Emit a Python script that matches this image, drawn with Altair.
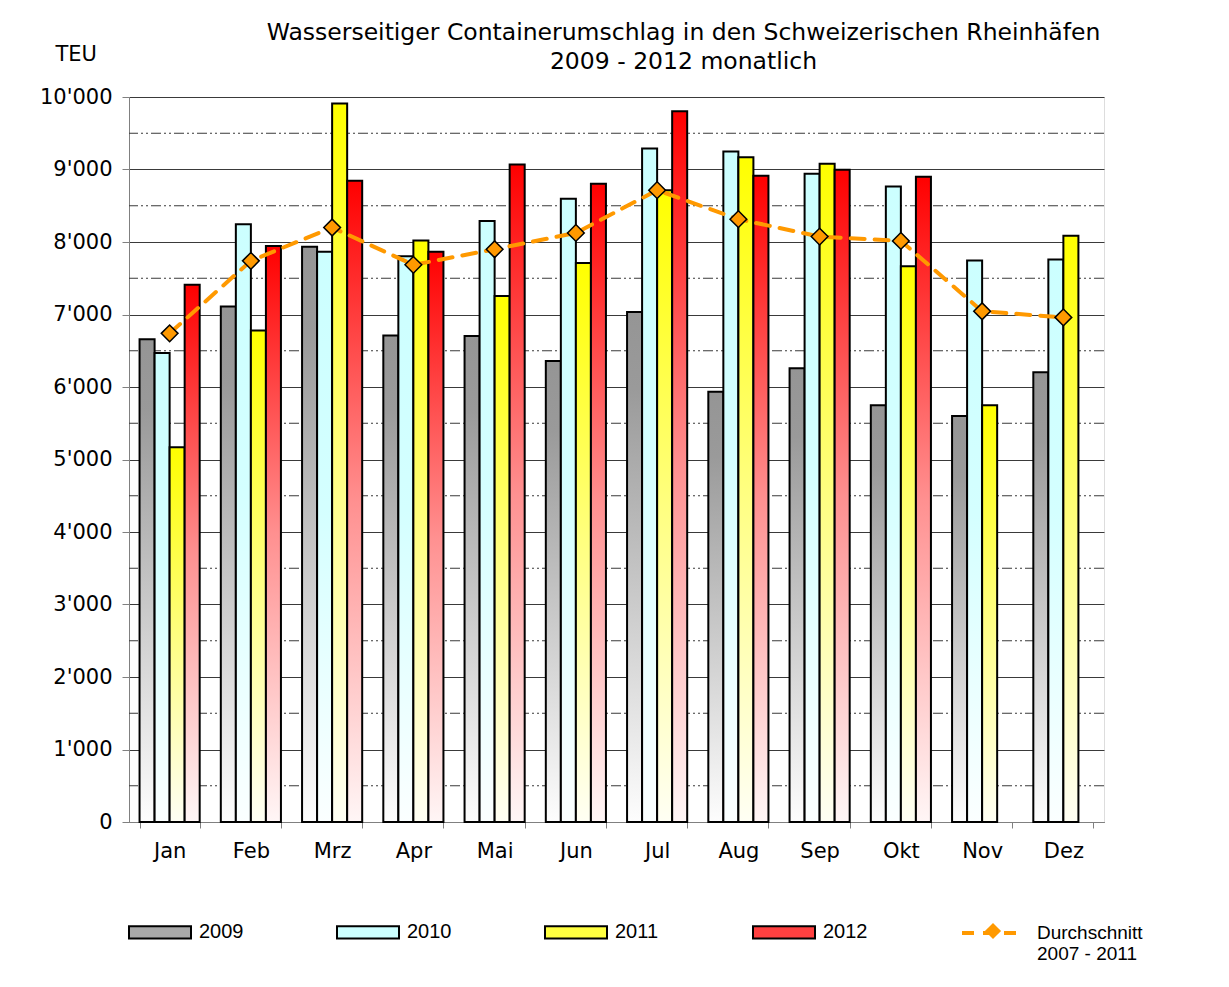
import altair as alt
import pandas as pd

months = ["Jan", "Feb", "Mrz", "Apr", "Mai", "Jun", "Jul", "Aug", "Sep", "Okt", "Nov", "Dez"]
years = ["2009", "2010", "2011", "2012"]
v2009 = [6660, 7110, 7935, 6710, 6705, 6360, 7035, 5935, 6260, 5750, 5600, 6205]
v2010 = [6470, 8245, 7865, 7805, 8290, 8595, 9290, 9250, 8940, 8765, 7745, 7760]
v2011 = [5170, 6780, 9910, 8020, 7255, 7710, 8715, 9170, 9080, 7665, 5750, 8085]
v2012 = [7410, 7945, 8845, 7865, 9070, 8805, 9805, 8915, 8995, 8900, None, None]
avg = [6740, 7740, 8200, 7685, 7900, 8125, 8715, 8315, 8075, 8015, 7045, 6960]
y_ticks = [0, 1000, 2000, 3000, 4000, 5000, 6000, 7000, 8000, 9000, 10000]
half_grid = [500, 1500, 2500, 3500, 4500, 5500, 6500, 7500, 8500, 9500]
avg_name = "Durchschnitt"
avg_point_name = "Durchschnitt 2007 - 2011"

rows = []
for yr, vals in zip(years, [v2009, v2010, v2011, v2012]):
    for m, v in zip(months, vals):
        if v is not None:
            rows.append({"Monat": m, "Jahr": yr, "TEU": v})
bars_df = pd.DataFrame(rows)
avg_df = pd.DataFrame({"Monat": months, "TEU": avg, "Serie": avg_name, "Punkt": avg_point_name})
half_df = pd.DataFrame({"TEU": half_grid})


def grad(stops):
    return alt.LinearGradient(
        gradient="linear", x1=0, x2=0, y1=0, y2=1,
        stops=[alt.GradientStop(color=c, offset=o) for o, c in stops],
    )


gradients = {
    "2009": grad([(0, "#959595"), (0.15, "#9a9a9a"), (1, "#fdfdfd")]),
    "2010": grad([(0, "#ccffff"), (0.45, "#d4ffff"), (1, "#fbffff")]),
    "2011": grad([(0, "#ffff00"), (0.5, "#ffff80"), (1, "#fffff4")]),
    "2012": grad([(0, "#ff0000"), (0.5, "#ff9090"), (1, "#fff6f6")]),
}
legend_colors = ["#a8a8a8", "#ccffff", "#ffff40", "#ff4040"]

FONT = "DejaVu Sans"
LFONT = "Liberation Sans"

x_enc = alt.X(
    "Monat:N",
    sort=months,
    scale=alt.Scale(domain=months, paddingInner=0.26, paddingOuter=0.13),
    axis=alt.Axis(
        title=None, labelAngle=0, tickBand="extent", tickSize=6,
        labelPadding=12, labelFont=FONT, labelFontSize=21, labelColor="black",
        domainColor="#808080", tickColor="#808080", grid=False,
    ),
)
y_enc = alt.Y(
    "TEU:Q",
    scale=alt.Scale(domain=[0, 10000], nice=False),
    axis=alt.Axis(
        values=y_ticks, title="TEU", titleAngle=0, titleX=-74, titleY=-37,
        titleAlign="left", titleBaseline="alphabetic", titleFont=FONT,
        titleFontSize=21, titleFontWeight="normal", titleColor="black",
        labelExpr="replace(format(datum.value, ','), ',', \"'\")",
        labelFont=FONT, labelFontSize=21, labelColor="black", labelPadding=10,
        tickSize=7, tickColor="#808080", domainColor="#808080",
        grid=True, gridColor="#3a3a3a", gridWidth=1,
    ),
)
xoff = alt.XOffset("Jahr:N", scale=alt.Scale(domain=years, paddingInner=0, paddingOuter=0))

half_rules = alt.Chart(half_df).mark_rule(
    color="#3a3a3a", strokeWidth=1, strokeDash=[10, 3, 2, 3, 2, 3]
).encode(y=y_enc)

bar_layers = []
for yr in years:
    bar_layers.append(
        alt.Chart(bars_df)
        .transform_filter(alt.datum.Jahr == yr)
        .mark_bar(fill=gradients[yr], stroke="black", strokeWidth=2)
        .encode(x=x_enc, y=y_enc, xOffset=xoff)
    )

legend_layer = (
    alt.Chart(bars_df)
    .transform_filter("false")
    .mark_bar(stroke="black", strokeWidth=2)
    .encode(
        x=x_enc, y=y_enc, xOffset=xoff,
        fill=alt.Fill(
            "Jahr:N",
            scale=alt.Scale(domain=years, range=legend_colors),
            legend=alt.Legend(
                orient="none", legendX=-1, legendY=803, direction="horizontal",
                columns=4, title=None, symbolType="M-1,-0.2H1V0.2H-1Z",
                symbolSize=3844, symbolStrokeWidth=2, symbolStrokeColor="black",
                labelFont=LFONT, labelFontSize=20, labelColor="black",
                labelOffset=7, columnPadding=89, gridAlign="all", padding=0,
                symbolOpacity=1,
            ),
        ),
    )
)

line = alt.Chart(avg_df).mark_line(
    strokeWidth=4, strokeDash=[14, 10], strokeCap="round"
).encode(
    x=x_enc, y=y_enc,
    stroke=alt.Stroke(
        "Serie:N",
        scale=alt.Scale(domain=[avg_name], range=["#FF9900"]),
        legend=alt.Legend(
            orient="none", legendX=831, legendY=804, title=None,
            symbolType="stroke", symbolSize=3600, symbolStrokeWidth=4,
            symbolDash=[12, 9], labelExpr="['Durchschnitt', '2007 - 2011']",
            labelFont=LFONT, labelFontSize=19, labelColor="black",
            labelOffset=13, labelBaseline="middle", padding=0,
        ),
    ),
)

points = alt.Chart(avg_df).mark_point(
    filled=True, fill="#FF9900", stroke="black", strokeWidth=1.5, size=280, opacity=1
).encode(
    x=x_enc, y=y_enc,
    shape=alt.Shape(
        "Punkt:N",
        scale=alt.Scale(domain=[avg_point_name], range=["diamond"]),
        legend=alt.Legend(
            orient="none", legendX=855, legendY=825, title=None,
            symbolSize=260, symbolFillColor="#FF9900", symbolStrokeColor="black",
            symbolStrokeWidth=1.5, labelExpr="''", padding=0,
        ),
    ),
)

chart = (
    alt.layer(half_rules, *bar_layers, legend_layer, line, points)
    .properties(
        width=975,
        height=725,
        autosize=alt.AutoSizeParams(type="none"),
        padding={"left": 121, "top": 89, "right": 117, "bottom": 157},
        title=alt.TitleParams(
            text=["Wasserseitiger Containerumschlag in den Schweizerischen Rheinhäfen",
                  "2009  - 2012 monatlich"],
            font=FONT, fontSize=23.5, fontWeight="normal", color="black",
            anchor="middle", frame="group", dx=67, dy=30, offset=0, lineHeight=29,
        ),
    )
    .configure_view(stroke="transparent")
    .configure(background="white")
)

chart.save("out.html", embed_options={"renderer": "svg", "actions": False})
